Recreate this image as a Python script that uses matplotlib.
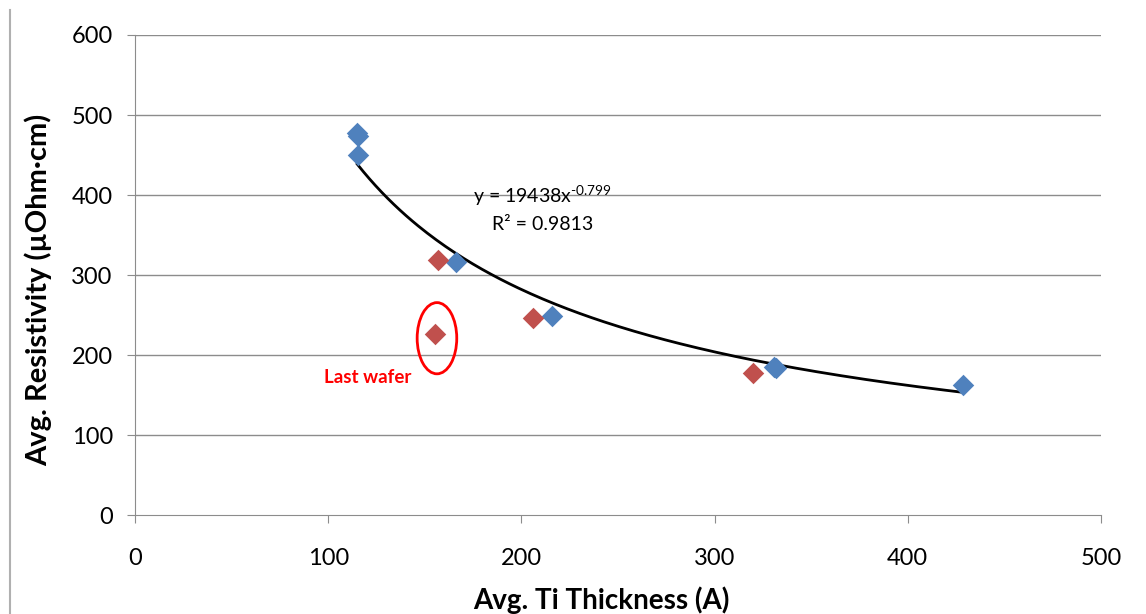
import numpy as np
import matplotlib
matplotlib.use('Agg')
import matplotlib.pyplot as plt
from matplotlib.patches import Ellipse
from matplotlib.lines import Line2D

plt.rcParams['font.family'] = ['Lato', 'DejaVu Sans']
plt.rcParams['mathtext.fontset'] = 'custom'
plt.rcParams['mathtext.rm'] = 'Lato'
plt.rcParams['mathtext.it'] = 'Lato'

# data
blue_x = [115.0, 115.2, 115.6, 166.1, 215.7, 330.9, 332.0, 428.7]
blue_y = [477, 474, 450, 316.6, 248.8, 185.4, 183.5, 162.5]
red_x = [156.7, 155.3, 205.8, 319.7]
red_y = [318.7, 226, 246, 177]
last_wafer = (155.3, 226)

# power trendline from the chart: y = 19438 x^-0.799
coef_a = 19438
coef_b = -0.799
r2 = 0.9813

xticks = [0, 100, 200, 300, 400, 500]
yticks = [0, 100, 200, 300, 400, 500, 600]

fig = plt.figure(figsize=(11.46, 6.14), dpi=100)
ax = fig.add_axes([0.1178, 0.1612, 0.8429, 0.7818])

grid_c = '#8c8c8c'
for t in yticks[1:]:
    ax.axhline(t, color=grid_c, lw=1, zorder=0)

xs = np.linspace(min(blue_x), max(blue_x), 200)
ax.plot(xs, coef_a * xs ** coef_b, color='black', lw=2, zorder=2)

ax.scatter(blue_x, blue_y, marker='D', s=120, color='#4F81BD', zorder=3, linewidths=0)
ax.scatter(red_x, red_y, marker='D', s=120, color='#C0504D', zorder=3, linewidths=0)

# circle around the last wafer
ax.add_patch(Ellipse((last_wafer[0] + 1, last_wafer[1] - 5), 20.5, 89,
                     fill=False, edgecolor='#FF0000', lw=2, zorder=4))
ax.text(last_wafer[0] - 35, last_wafer[1] - 54, 'Last wafer', color='#FF0000',
        fontsize=13.5, fontweight='bold', ha='center', va='center')

ax.text(211, 399, 'y = 19438x' + r'$^{\text{-0.799}}$', fontsize=14, ha='center', va='center')
ax.text(211, 363, 'R² = 0.9813', fontsize=14, ha='center', va='center')

ax.set_xlim(0, 500)
ax.set_ylim(0, 600)
ax.set_xticks(xticks)
ax.set_yticks(yticks)
ax.tick_params(axis='both', direction='out', length=6, color=grid_c, labelsize=17, pad=10)
ax.tick_params(axis='x', pad=18)
for s in ['top', 'right']:
    ax.spines[s].set_visible(False)
for s in ['left', 'bottom']:
    ax.spines[s].set_color(grid_c)

ax.set_xlabel('Avg. Ti Thickness (A)', fontsize=20, fontweight='bold')
ax.set_ylabel('Avg. Resistivity (µOhm·cm)', fontsize=21, fontweight='bold')
ax.xaxis.set_label_coords(0.483, -0.148)
ax.yaxis.set_label_coords(-0.086, 0.469)

fig.add_artist(Line2D([10 / 1146, 10 / 1146], [0, 604 / 614], color='#b0b0b0', lw=1.5,
                      transform=fig.transFigure))

fig.savefig('out.png', dpi=100)
